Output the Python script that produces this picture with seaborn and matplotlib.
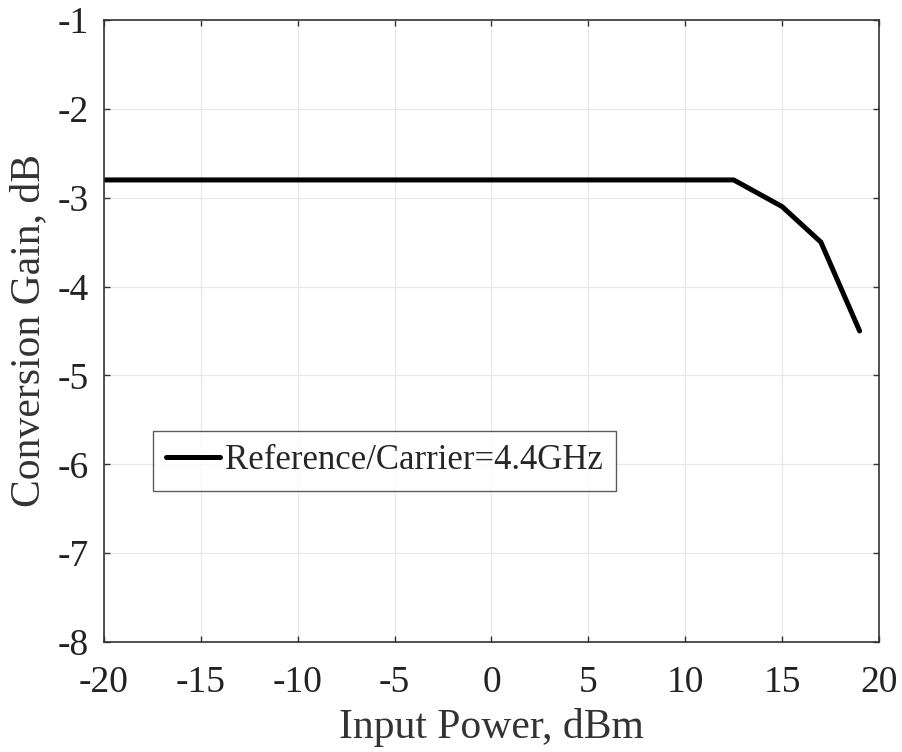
import matplotlib
matplotlib.use("Agg")
import matplotlib.pyplot as plt
import seaborn as sns
import pandas as pd

# data
input_power = [-20, 12.5, 15, 17, 19]
conversion_gain = [-2.8, -2.8, -3.1, -3.5, -4.5]
series_name = "Reference/Carrier=4.4GHz"

x_ticks = [-20, -15, -10, -5, 0, 5, 10, 15, 20]
y_ticks = [-8, -7, -6, -5, -4, -3, -2, -1]

df = pd.DataFrame({
    "Input Power, dBm": input_power,
    "Conversion Gain, dB": conversion_gain,
    "series": [series_name] * len(input_power),
})

sns.set_theme(style="whitegrid")
plt.rcParams["font.family"] = ["Liberation Serif", "DejaVu Serif"]

fig = plt.figure(figsize=(9.02, 7.52), dpi=100)
ax = fig.add_axes([0.1153, 0.1463, 0.8592, 0.8271])

sns.lineplot(
    data=df,
    x="Input Power, dBm",
    y="Conversion Gain, dB",
    hue="series",
    palette=["black"],
    linewidth=3.6,
    ax=ax,
)

ax.set_xlim(-20, 20)
ax.set_ylim(-8, -1)
ax.set_xticks(x_ticks)
ax.set_yticks(y_ticks)
ax.set_xticklabels([str(t) for t in x_ticks])
ax.set_yticklabels([str(t) for t in y_ticks])

ax.grid(True, color="#e8e8e8", linewidth=0.9)
for side in ax.spines.values():
    side.set_color("#333333")
    side.set_linewidth(1.2)

ax.tick_params(axis="both", direction="in", length=4, width=1.0,
               colors="#333333", labelcolor="#222222", labelsize=27,
               top=True, right=True, bottom=True, left=True)
ax.tick_params(axis="x", pad=17)
ax.tick_params(axis="y", pad=11)

ax.set_xlabel("Input Power, dBm", fontsize=30, color="#333333", labelpad=6)
ax.set_ylabel("Conversion Gain, dB", fontsize=30, color="#333333", labelpad=7)

leg = ax.legend(
    loc="center left",
    bbox_to_anchor=(0.063, 0.291),
    fontsize=25,
    frameon=True,
    fancybox=False,
    handlelength=1.55,
    handletextpad=0.15,
    borderpad=0.38,
    borderaxespad=0,
)
leg.get_frame().set_edgecolor("#333333")
leg.get_frame().set_linewidth(1.0)
for line in leg.get_lines():
    line.set_linewidth(3.6)

fig.savefig("out.png", dpi=100)
